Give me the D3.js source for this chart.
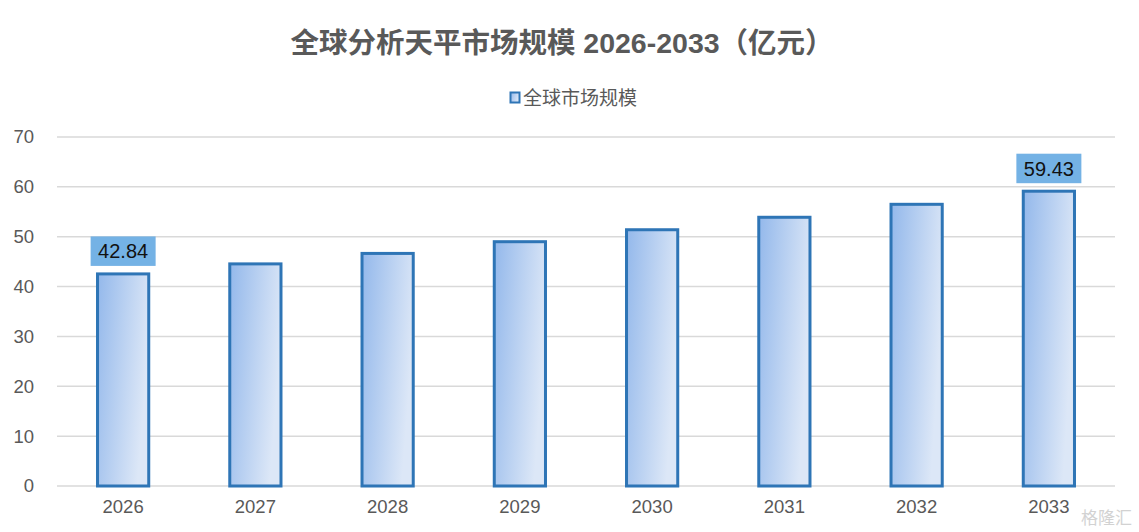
<!DOCTYPE html>
<html>
<head>
<meta charset="utf-8">
<script src="https://cdn.jsdelivr.net/npm/d3@7"></script>
<style>
  body { margin: 0; background: #fff; }
  text { font-family: "Liberation Sans", "Noto Sans CJK SC", sans-serif; }
</style>
</head>
<body>
<div id="chart-area"></div>
<script>
// 数据
const years = ["2026", "2027", "2028", "2029", "2030", "2031", "2032", "2033"];
const marketSize = [42.84, 44.85, 46.95, 49.3, 51.7, 54.2, 56.8, 59.43];
const yTicks = [0, 10, 20, 30, 40, 50, 60, 70];
const labelledYears = ["2026", "2033"];
const seriesName = "全球市场规模";
const titleText = "全球分析天平市场规模 2026-2033（亿元）";

const width = 1139;
const height = 532;
const margin = { top: 137, right: 24, bottom: 46, left: 57 };
const innerW = width - margin.left - margin.right;
const innerH = height - margin.top - margin.bottom;

const svg = d3.select("#chart-area")
    .append("svg")
    .attr("width", width)
    .attr("height", height);

// 渐变填充
const defs = svg.append("defs");
const grad = defs.append("linearGradient")
    .attr("id", "barFill")
    .attr("x1", 0).attr("y1", 0)
    .attr("x2", 1).attr("y2", 0.35);
grad.append("stop").attr("offset", "0%").attr("stop-color", "#93B8EB");
grad.append("stop").attr("offset", "100%").attr("stop-color", "#DCE7F7");

// 标题
svg.append("text")
    .attr("x", 562)
    .attr("y", 53)
    .attr("text-anchor", "middle")
    .attr("font-size", "28.5px")
    .attr("font-weight", "bold")
    .style("fill", "#595959")
    .text(titleText);

// 图例
svg.append("rect")
    .attr("x", 510.5).attr("y", 92.5)
    .attr("width", 9).attr("height", 10)
    .attr("fill", "url(#barFill)")
    .attr("stroke", "#2E75B6")
    .attr("stroke-width", 2);
svg.append("text")
    .attr("x", 523)
    .attr("y", 105)
    .attr("font-size", "19px")
    .style("fill", "#595959")
    .text(seriesName);

const g = svg.append("g")
    .attr("transform", `translate(${margin.left},${margin.top})`);

const x = d3.scaleBand()
    .domain(years)
    .range([0, innerW])
    .padding(0);

const y = d3.scaleLinear()
    .domain([0, 70])
    .range([innerH, 0]);

// 网格线
g.append("g")
    .selectAll("line")
    .data(yTicks)
    .join("line")
    .attr("x1", 0)
    .attr("x2", innerW)
    .attr("y1", d => y(d))
    .attr("y2", d => y(d))
    .attr("stroke", "#D9D9D9")
    .attr("stroke-width", 1.5);

// 坐标轴
const leftAxis = d3.axisLeft(y).tickValues(yTicks).tickSize(0).tickPadding(23);
g.append("g")
    .attr("class", "left axis")
    .call(leftAxis)
    .call(a => a.select(".domain").remove())
    .selectAll("text")
    .attr("font-size", "18.5px")
    .style("fill", "#595959");

const bottomAxis = d3.axisBottom(x).tickSize(0).tickPadding(14);
g.append("g")
    .attr("class", "bottom axis")
    .attr("transform", `translate(0,${innerH})`)
    .call(bottomAxis)
    .call(a => a.select(".domain").remove())
    .selectAll("text")
    .attr("font-size", "18.5px")
    .style("fill", "#595959");

// 柱子
const barW = x.bandwidth() * 0.41;
const sw = 3;
g.selectAll("rect.bar")
    .data(years)
    .join("rect")
    .attr("class", "bar")
    .attr("x", d => x(d) + (x.bandwidth() - barW) / 2 + sw / 2)
    .attr("y", (d, i) => y(marketSize[i]) + sw / 2)
    .attr("width", barW - sw)
    .attr("height", (d, i) => innerH - y(marketSize[i]) - sw / 2)
    .attr("fill", "url(#barFill)")
    .attr("stroke", "#2E75B6")
    .attr("stroke-width", sw);

// 数据标签
const labels = g.selectAll("g.dlabel")
    .data(years.filter(d => labelledYears.includes(d)))
    .join("g")
    .attr("class", "dlabel")
    .attr("transform", d => {
        const v = marketSize[years.indexOf(d)];
        return `translate(${x(d) + x.bandwidth() / 2},${y(v) - 6.5})`;
    });

labels.append("rect")
    .attr("x", -32.5)
    .attr("y", -29.5)
    .attr("width", 65)
    .attr("height", 29.5)
    .attr("fill", "#74B2E5");

labels.append("text")
    .attr("x", 0)
    .attr("y", -7.5)
    .attr("text-anchor", "middle")
    .attr("font-size", "20px")
    .style("fill", "#111")
    .text(d => marketSize[years.indexOf(d)].toFixed(2));

// 水印
svg.append("text")
    .attr("x", 1132)
    .attr("y", 524)
    .attr("text-anchor", "end")
    .attr("font-size", "17px")
    .style("fill", "#C8C8C8")
    .style("opacity", 0.8)
    .text("格隆汇");
</script>
</body>
</html>
